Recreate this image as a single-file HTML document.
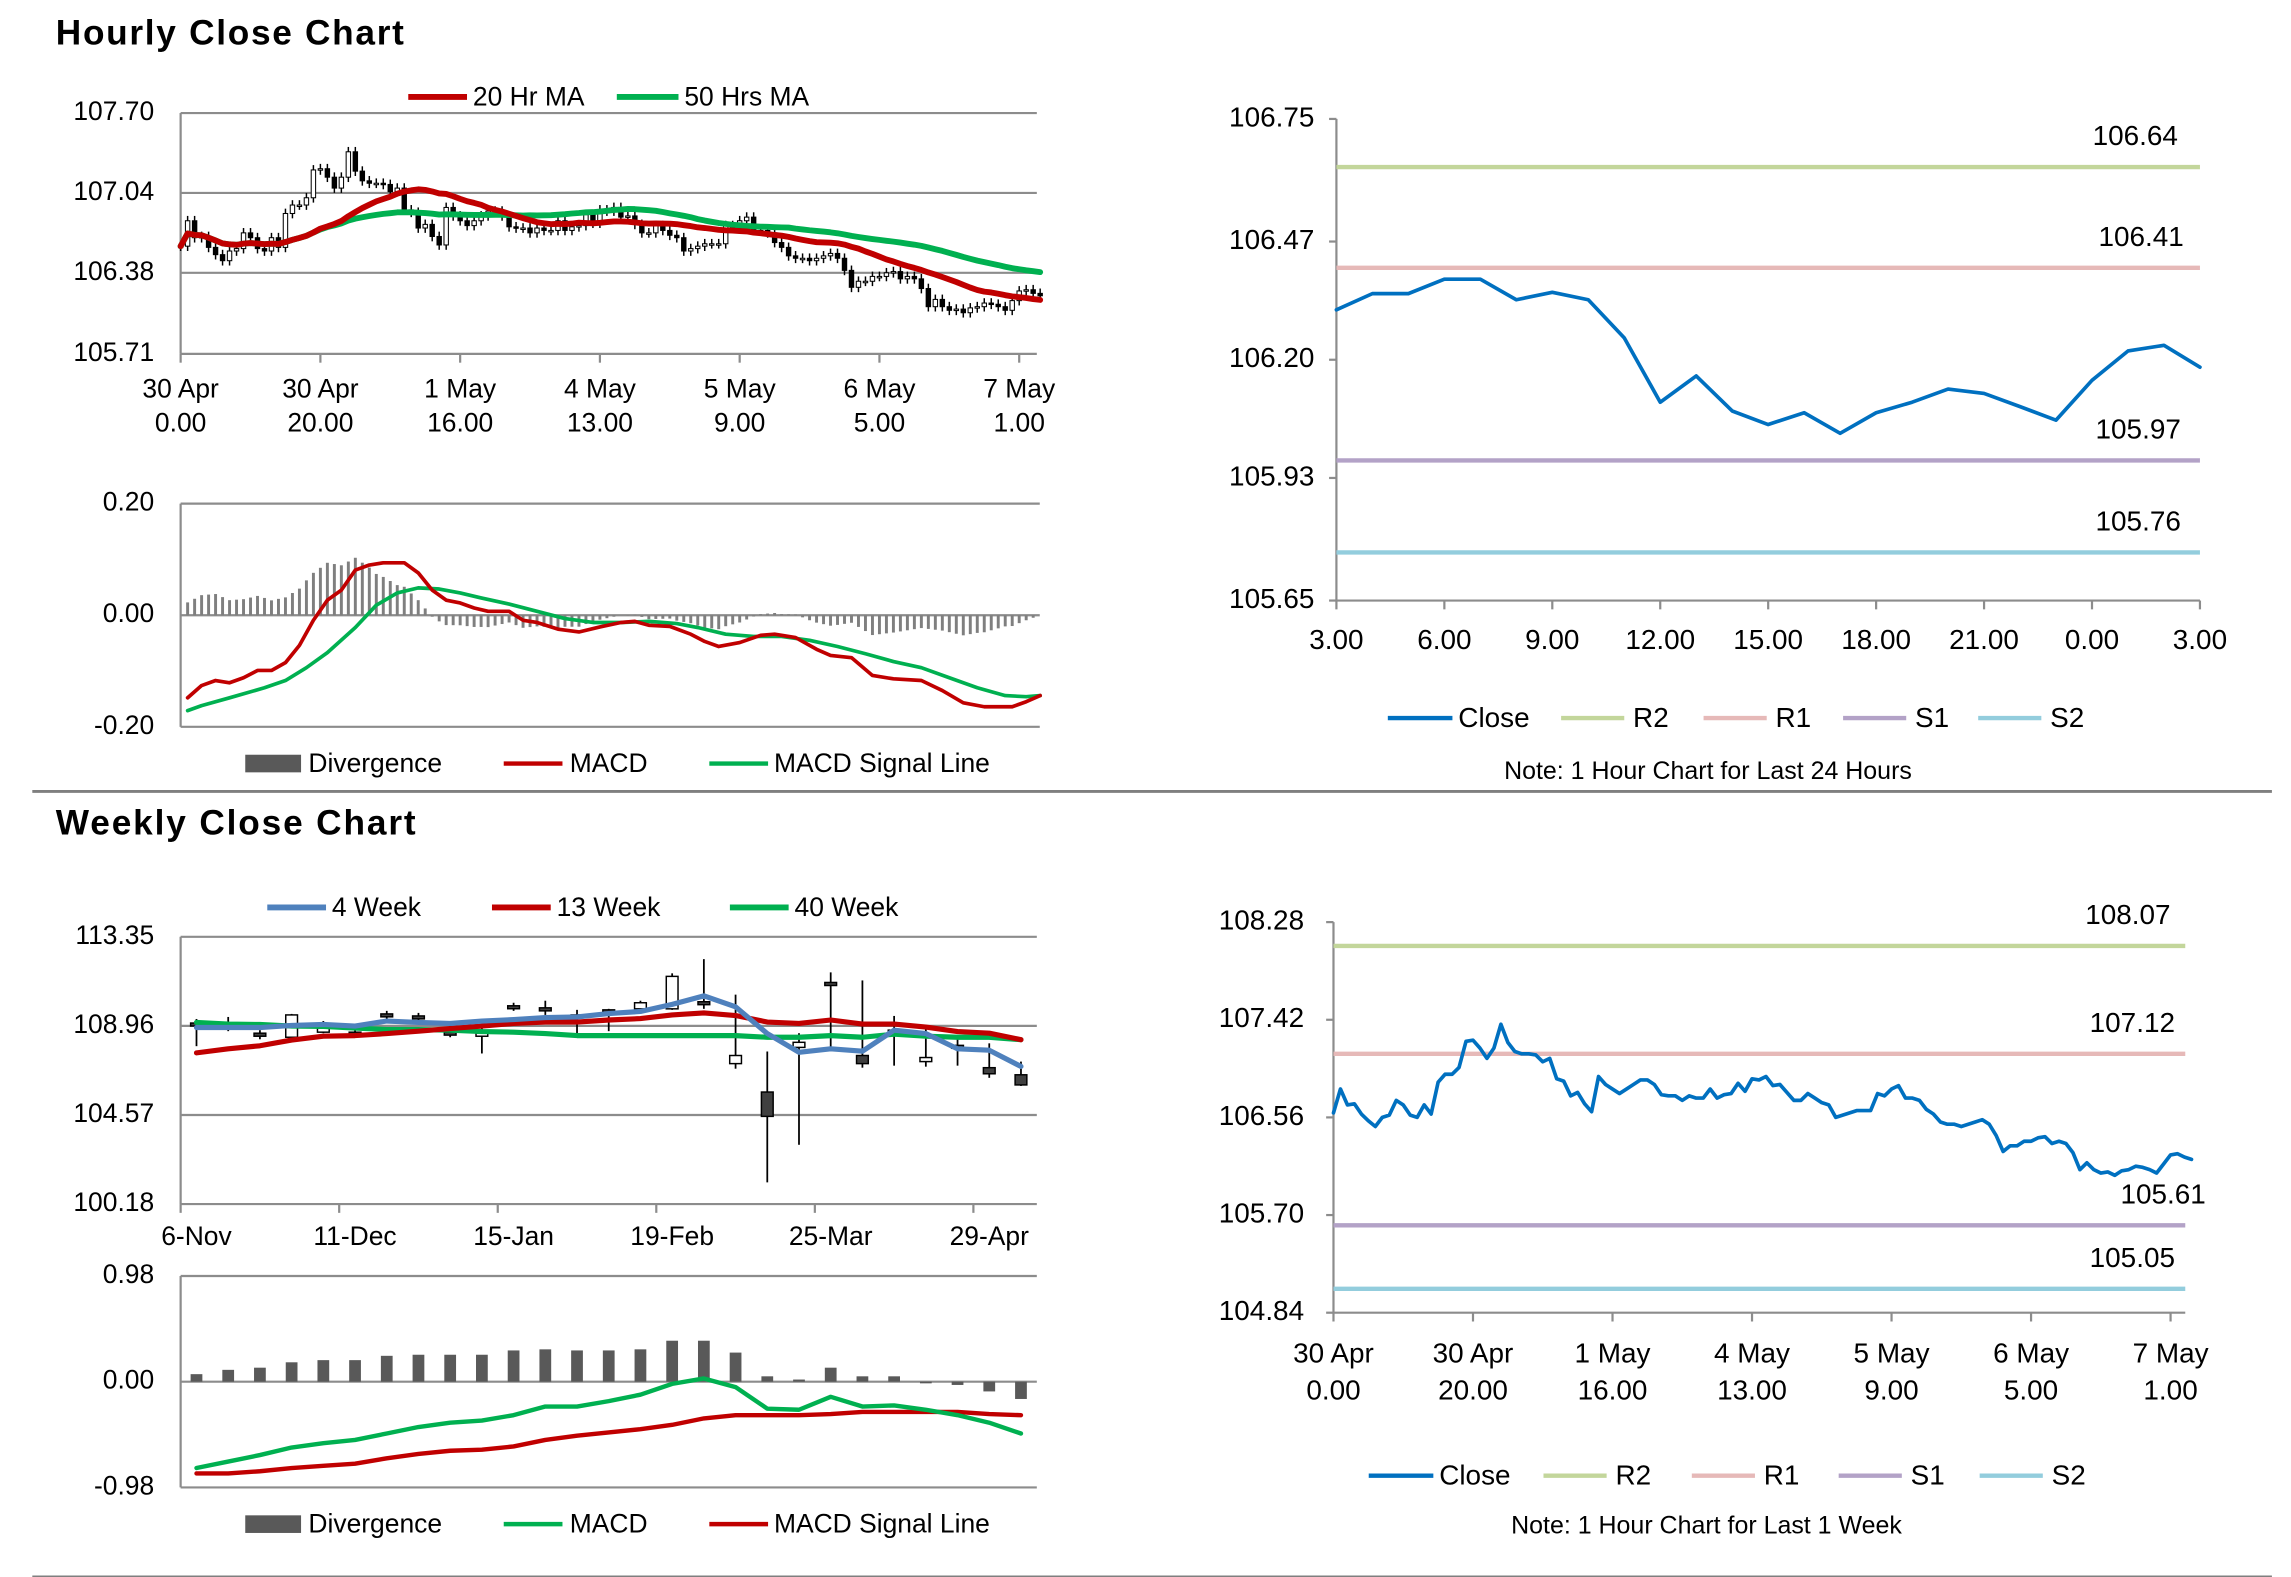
<!DOCTYPE html>
<html><head><meta charset="utf-8"><style>
html,body{margin:0;padding:0;background:#fff}
svg{display:block}
text{font-family:"Liberation Sans Narrow","Liberation Sans",sans-serif;fill:#000}
</style></head><body>
<svg id="root" width="2291" height="1577" viewBox="0 0 1560 1074" preserveAspectRatio="none" xmlns="http://www.w3.org/2000/svg"></svg>
<script>
// ---------- DATA ----------
const hourTickLabels1 = ["30 Apr","30 Apr","1 May","4 May","5 May","6 May","7 May"];
const hourTickLabels2 = ["0.00","20.00","16.00","13.00","9.00","5.00","1.00"];
const hourlyClose = [106.60,106.81,106.67,106.68,106.59,106.53,106.48,106.56,106.58,106.71,106.67,106.58,106.56,106.67,106.59,106.87,106.94,106.94,107.00,107.23,107.24,107.17,107.08,107.17,107.38,107.22,107.14,107.12,107.12,107.11,107.05,107.08,106.90,106.88,106.75,106.78,106.68,106.61,106.92,106.85,106.81,106.77,106.81,106.85,106.89,106.89,106.85,106.76,106.75,106.75,106.71,106.75,106.73,106.73,106.81,106.73,106.76,106.77,106.86,106.79,106.90,106.89,106.92,106.84,106.85,106.78,106.71,106.71,106.77,106.73,106.69,106.67,106.56,106.58,106.60,106.62,106.62,106.62,106.77,106.75,106.81,106.84,106.73,106.73,106.71,106.63,106.59,106.52,106.50,106.50,106.48,106.50,106.52,106.54,106.50,106.40,106.26,106.31,106.31,106.35,106.35,106.38,106.39,106.33,106.35,106.33,106.25,106.10,106.16,106.10,106.07,106.08,106.05,106.09,106.10,106.13,106.12,106.10,106.07,106.15,106.23,106.24,106.21,106.19];
const hourlyYTicks = [105.71,106.38,107.04,107.70];
const macdIdx = [1,3,5,7,9,11,13,15,17,19,21,23,25,27,29,32,34,36,38,40,42,44,47,49,51,54,57,60,63,65,67,70,73,75,77,80,83,85,88,91,93,96,99,102,106,109,112,115,119,121,123];
const macdVal = [-0.148,-0.126,-0.117,-0.121,-0.112,-0.099,-0.099,-0.085,-0.054,-0.009,0.027,0.045,0.081,0.090,0.094,0.094,0.076,0.045,0.027,0.022,0.013,0.007,0.007,-0.009,-0.013,-0.025,-0.030,-0.021,-0.013,-0.011,-0.018,-0.020,-0.034,-0.047,-0.056,-0.049,-0.036,-0.034,-0.040,-0.061,-0.072,-0.076,-0.108,-0.114,-0.117,-0.135,-0.157,-0.164,-0.164,-0.155,-0.144];
const signalIdx = [1,3,7,12,15,18,21,25,28,31,34,37,40,43,47,51,55,59,63,67,71,74,78,82,86,90,94,98,102,106,110,114,118,121,123];
const signalVal = [-0.171,-0.162,-0.148,-0.130,-0.117,-0.094,-0.067,-0.022,0.018,0.040,0.049,0.047,0.040,0.031,0.020,0.007,-0.006,-0.013,-0.013,-0.011,-0.015,-0.022,-0.034,-0.038,-0.038,-0.045,-0.056,-0.069,-0.083,-0.094,-0.112,-0.130,-0.144,-0.146,-0.144];
const macdHTicks = [-0.20,0.00,0.20];
const day24Close = [106.314,106.351,106.351,106.384,106.384,106.337,106.354,106.337,106.250,106.103,106.163,106.083,106.052,106.079,106.032,106.079,106.103,106.133,106.123,106.093,106.062,106.153,106.220,106.233,106.183];
const day24TickLabels = ["3.00","6.00","9.00","12.00","15.00","18.00","21.00","0.00","3.00"];
const day24YTicks = [105.65,105.93,106.20,106.47,106.75];
const day24Levels = [106.64,106.41,105.97,105.76];
const weekLevels = [108.07,107.12,105.61,105.05];
const weekHourYTicks = [104.84,105.70,106.56,107.42,108.28];
const levelNames = ["R2","R1","S1","S2"];
const weeks = ["6-Nov","13-Nov","20-Nov","27-Nov","4-Dec","11-Dec","18-Dec","25-Dec","1-Jan","8-Jan","15-Jan","22-Jan","29-Jan","5-Feb","12-Feb","19-Feb","26-Feb","4-Mar","11-Mar","18-Mar","25-Mar","1-Apr","8-Apr","15-Apr","22-Apr","29-Apr","6-May"];
const wOpen  = [109.10,108.95,108.60,108.40,108.65,108.65,109.55,109.45,108.65,108.45,109.95,109.85,109.50,109.75,109.80,109.80,110.15,107.10,105.70,107.90,111.10,107.50,108.75,107.20,108.00,106.90,106.55];
const wClose = [109.00,108.90,108.45,109.50,108.85,108.55,109.45,109.35,108.55,108.60,109.85,109.70,109.45,109.65,110.10,111.40,110.05,107.50,104.50,108.15,110.95,107.10,108.70,107.40,107.95,106.60,106.05];
const wHigh  = [109.30,109.40,108.75,109.55,109.20,108.90,109.70,109.60,109.00,108.90,110.10,110.20,109.75,109.80,110.20,111.55,112.25,110.50,107.70,108.60,111.60,111.20,109.45,108.90,108.50,108.10,107.20];
const wLow   = [107.96,108.70,108.30,108.35,108.60,108.40,109.20,109.10,108.40,107.60,109.70,109.50,108.60,108.70,109.60,109.75,109.80,106.85,101.25,103.10,107.90,106.90,107.00,106.95,107.00,106.40,106.00];
const ma4  = [108.88,108.88,108.88,108.98,109.03,108.95,109.20,109.13,109.08,109.20,109.27,109.37,109.40,109.57,109.67,110.02,110.44,109.90,108.58,107.66,107.83,107.71,108.75,108.58,107.83,107.76,106.96];
const ma13 = [107.63,107.83,107.98,108.26,108.45,108.48,108.58,108.70,108.83,108.95,109.08,109.15,109.15,109.25,109.32,109.50,109.60,109.47,109.15,109.08,109.25,109.05,109.05,108.90,108.68,108.60,108.28];
const ma40 = [109.13,109.05,109.03,108.95,108.93,108.85,108.78,108.78,108.75,108.68,108.65,108.58,108.48,108.48,108.48,108.48,108.48,108.48,108.40,108.40,108.48,108.40,108.55,108.45,108.40,108.40,108.28];
const weekYTicks = [100.18,104.57,108.96,113.35];
const wDiv  = [0.07,0.11,0.13,0.18,0.20,0.20,0.24,0.25,0.25,0.25,0.29,0.30,0.29,0.29,0.30,0.38,0.38,0.27,0.05,0.02,0.13,0.05,0.05,-0.015,-0.03,-0.09,-0.16];
const wMacd = [-0.80,-0.74,-0.68,-0.61,-0.57,-0.54,-0.48,-0.42,-0.38,-0.36,-0.31,-0.23,-0.23,-0.18,-0.12,-0.02,0.03,-0.05,-0.25,-0.26,-0.14,-0.23,-0.22,-0.26,-0.31,-0.38,-0.48];
const wSig  = [-0.85,-0.85,-0.83,-0.80,-0.78,-0.76,-0.71,-0.67,-0.64,-0.63,-0.60,-0.54,-0.50,-0.47,-0.44,-0.40,-0.34,-0.31,-0.31,-0.31,-0.30,-0.28,-0.28,-0.28,-0.28,-0.30,-0.31];
const wMacdTicks = [-0.98,0.00,0.98];

// ---------- HELPERS ----------
const NS = "http://www.w3.org/2000/svg";
const root = document.getElementById('root');
function mk(tag, attrs, name, parent, inter) {
  const e = document.createElementNS(NS, tag);
  for (const k in attrs) e.setAttribute(k, attrs[k]);
  
  
  (parent || root).appendChild(e);
  return e;
}
function txt(x, y, s, size, anchor, name, parent, extra) {
  const a = Object.assign({x: x, y: y, 'font-size': size, 'text-anchor': anchor || 'start', 'dominant-baseline': 'middle'}, extra || {});
  const t = mk('text', a, name, parent);
  t.textContent = s;
  return t;
}
function line(x1, y1, x2, y2, stroke, w, name, parent) {
  return mk('line', {x1: x1, y1: y1, x2: x2, y2: y2, stroke: stroke, 'stroke-width': w}, name, parent);
}
function poly(pts, stroke, w, name, parent) {
  return mk('polyline', {points: pts.map(p => p[0].toFixed(2) + ',' + p[1].toFixed(2)).join(' '), fill: 'none', stroke: stroke, 'stroke-width': w, 'stroke-linejoin': 'round', 'stroke-linecap': 'round'}, name, parent);
}
function scale(d0, d1, r0, r1) { return v => r0 + (v - d0) / (d1 - d0) * (r1 - r0); }
const GRID = '#8c8c8c', RED = '#c00000', GREEN = '#00b050', BLUE = '#4f81bd', CBLUE = '#0070c0', DIV = '#595959';
const LVL = ['#c3d69b', '#e6b9b8', '#b3a2c7', '#93cddd'];

// ---------- TITLES / SEPARATORS ----------
txt(38, 24, "Hourly Close Chart", 24, 'start', 'hourly-title', null, {'font-weight': 'bold', 'font-family': '"Liberation Sans",sans-serif', textLength: 237});
txt(38, 562, "Weekly Close Chart", 24, 'start', 'weekly-title', null, {'font-weight': 'bold', 'font-family': '"Liberation Sans",sans-serif', textLength: 245});
line(22, 539, 1547, 539, '#7f7f7f', 2, 'section-separator');
line(22, 1074, 1547, 1074, '#7f7f7f', 2, 'bottom-separator');

// ---------- HOURLY CANDLE CHART ----------
(function () {
  const g = mk('g', {}, 'hourly-candle-chart', root);
  const L = 123, R = 706;
  const x = scale(0, 120, 123, 694);
  const y = scale(105.71, 107.70, 241, 77);
  hourlyYTicks.forEach((v, i) => {
    line(L, y(v), R, y(v), GRID, 1.5, 'hourly-gridline', g);
    txt(105, y(v), v.toFixed(2), 18, 'end', 'hourly-y-label', g);
  });
  line(L, 77, L, 241, GRID, 1.5, 'hourly-y-axis', g);
  hourTickLabels1.forEach((s, i) => {
    const xx = x(i * 20);
    line(xx, 241, xx, 247, GRID, 1.5, 'hourly-x-tick', g);
    txt(xx, 266, s, 18, 'middle', 'hourly-x-label-date', g);
    txt(xx, 289, hourTickLabels2[i], 18, 'middle', 'hourly-x-label-time', g);
  });
  // candles
  hourlyClose.forEach((c, i) => {
    const o = i > 0 ? hourlyClose[i - 1] : c;
    const hi = Math.max(o, c) + 0.04, lo = Math.min(o, c) - 0.04;
    const xx = x(i);
    line(xx, y(hi), xx, y(lo), '#000', 1, 'hourly-candle-wick', g);
    const top = y(Math.max(o, c)), h = Math.max(1, Math.abs(y(o) - y(c)));
    mk('rect', {x: xx - 1.5, y: top, width: 3, height: h, fill: c >= o ? '#fff' : '#000', stroke: '#000', 'stroke-width': 0.7}, 'hourly-candle', g);
  });
  function ma(n) {
    return hourlyClose.map((_, i) => {
      const s = hourlyClose.slice(Math.max(0, i - n + 1), i + 1);
      return s.reduce((a, b) => a + b, 0) / s.length;
    });
  }
  poly(ma(50).map((v, i) => [x(i), y(v)]), GREEN, 4, 'ma50-line', g);
  poly(ma(20).map((v, i) => [x(i), y(v)]), RED, 4, 'ma20-line', g);
  line(278, 66, 318, 66, RED, 4, 'legend-ma20-swatch', g);
  txt(322, 67, "20 Hr MA", 18, 'start', 'legend-ma20-label', g);
  line(420, 66, 462, 66, GREEN, 4, 'legend-ma50-swatch', g);
  txt(466, 67, "50 Hrs MA", 18, 'start', 'legend-ma50-label', g);
})();

// ---------- HOURLY MACD ----------
(function () {
  const g = mk('g', {}, 'hourly-macd-chart', root);
  const L = 123, R = 708;
  const x = scale(0, 120, 123, 694);
  const y = scale(-0.20, 0.20, 495, 343);
  macdHTicks.forEach(v => {
    line(L, y(v), R, y(v), GRID, 1.5, 'hourly-macd-gridline', g);
    txt(105, y(v), v.toFixed(2), 18, 'end', 'hourly-macd-y-label', g);
  });
  line(L, 343, L, 495, GRID, 1.5, 'hourly-macd-y-axis', g);
  function interp(ix, iv, t) {
    if (t <= ix[0]) return iv[0];
    for (let k = 1; k < ix.length; k++) if (t <= ix[k]) {
      const f = (t - ix[k - 1]) / (ix[k] - ix[k - 1]);
      return iv[k - 1] + f * (iv[k] - iv[k - 1]);
    }
    return iv[iv.length - 1];
  }
  for (let i = 1; i <= 123; i++) {
    const d = interp(macdIdx, macdVal, i) - interp(signalIdx, signalVal, i);
    const y0 = y(0), y1 = y(d);
    mk('rect', {x: x(i) - 1, y: Math.min(y0, y1), width: 2, height: Math.abs(y1 - y0), fill: '#7f7f7f'}, 'hourly-divergence-bar', g);
  }
  poly(signalIdx.map((t, k) => [x(t), y(signalVal[k])]), GREEN, 2.5, 'hourly-signal-line', g);
  poly(macdIdx.map((t, k) => [x(t), y(macdVal[k])]), RED, 2.5, 'hourly-macd-line', g);
  mk('rect', {x: 167, y: 514, width: 38, height: 12, fill: DIV}, 'legend-divergence-swatch', g);
  txt(210, 521, "Divergence", 18, 'start', 'legend-divergence-label', g);
  line(343, 520, 383, 520, RED, 3, 'legend-macd-swatch', g);
  txt(388, 521, "MACD", 18, 'start', 'legend-macd-label', g);
  line(483, 520, 523, 520, GREEN, 3, 'legend-signal-swatch', g);
  txt(527, 521, "MACD Signal Line", 18, 'start', 'legend-signal-label', g);
})();

// ---------- LEVEL CHART HELPER ----------
function levelChart(opts) {
  const g = mk('g', {}, opts.name, root);
  const y = scale(opts.ymin, opts.ymax, opts.yb, opts.yt);
  opts.yticks.forEach(v => txt(opts.yl, y(v), v.toFixed(2), 19, 'end', 'level-y-label', g));
  line(opts.L, opts.yt, opts.L, opts.yb, GRID, 1.5, 'level-y-axis', g);
  opts.yticks.forEach(v => line(opts.L - 5, y(v), opts.L, y(v), GRID, 1.5, 'level-y-tick', g));
  line(opts.L, opts.yb, opts.R, opts.yb, GRID, 1.5, 'level-x-axis', g);
  opts.levels.forEach((v, k) => {
    line(opts.L, y(v), opts.R, y(v), LVL[k], 3, 'level-line-' + levelNames[k].toLowerCase(), g);
    txt(opts.lx[k], y(v) - 20, v.toFixed(2), 19, 'end', 'level-value-' + levelNames[k].toLowerCase(), g);
  });
  opts.xticks.forEach(t => {
    const xx = opts.x(t.i);
    line(xx, opts.yb, xx, opts.yb + 6, GRID, 1.5, 'level-x-tick', g);
    t.l.forEach((s, j) => txt(xx, opts.xly + j * 25, s, 19, 'middle', 'level-x-label', g));
  });
  poly(opts.data.map((v, i) => [opts.x(i), y(v)]), CBLUE, 2.5, 'close-line', g);
  const lg = opts.lg;
  line(lg[0], opts.lgy, lg[0] + 44, opts.lgy, CBLUE, 3, 'legend-close-swatch', g);
  txt(lg[0] + 48, opts.lgy + 1, "Close", 19, 'start', 'legend-close-label', g);
  levelNames.forEach((n, k) => {
    line(lg[k + 1], opts.lgy, lg[k + 1] + 43, opts.lgy, LVL[k], 3, 'legend-' + n.toLowerCase() + '-swatch', g);
    txt(lg[k + 1] + 49, opts.lgy + 1, n, 19, 'start', 'legend-' + n.toLowerCase() + '-label', g);
  });
  txt(opts.noteX, opts.noteY, opts.note, 17, 'middle', 'chart-note', g);
}
levelChart({
  name: 'day-close-chart', L: 910, R: 1498, yt: 81, yb: 409, ymin: 105.65, ymax: 106.75, yl: 895,
  yticks: day24YTicks, levels: day24Levels, lx: [1483, 1487, 1485, 1485],
  x: scale(0, 24, 910, 1498),
  xticks: day24TickLabels.map((s, i) => ({i: i * 3, l: [s]})), xly: 437,
  data: day24Close, lgy: 489, lg: [945, 1063, 1160, 1255, 1347],
  note: "Note: 1 Hour Chart for Last 24 Hours", noteX: 1163, noteY: 526
});
levelChart({
  name: 'week-hourly-close-chart', L: 908, R: 1488, yt: 628, yb: 894, ymin: 104.84, ymax: 108.28, yl: 888,
  yticks: weekHourYTicks, levels: weekLevels, lx: [1478, 1481, 1502, 1481],
  x: scale(0, 120, 908, 1478),
  xticks: hourTickLabels1.map((s, i) => ({i: i * 20, l: [s, hourTickLabels2[i]]})), xly: 923,
  data: hourlyClose, lgy: 1005, lg: [932, 1051, 1152, 1252, 1348],
  note: "Note: 1 Hour Chart for Last 1 Week", noteX: 1162, noteY: 1040
});

// ---------- WEEKLY CANDLE CHART ----------
(function () {
  const g = mk('g', {}, 'weekly-candle-chart', root);
  const L = 123, R = 706, bw = (R - L) / weeks.length;
  const x = i => L + bw * (i + 0.5);
  const y = scale(100.18, 113.35, 820, 638);
  weekYTicks.forEach(v => {
    line(L, y(v), R, y(v), GRID, 1.5, 'weekly-gridline', g);
    txt(105, y(v), v.toFixed(2), 18, 'end', 'weekly-y-label', g);
  });
  line(L, 638, L, 820, GRID, 1.5, 'weekly-y-axis', g);
  weeks.forEach((w, i) => {
    if (i % 5 === 0) {
      line(L + i * bw, 820, L + i * bw, 826, GRID, 1.5, 'weekly-x-tick', g);
      txt(x(i), 843, w, 18, 'middle', 'weekly-x-label', g);
    }
  });
  weeks.forEach((w, i) => {
    line(x(i), y(wHigh[i]), x(i), y(wLow[i]), '#000', 1.2, 'weekly-candle-wick', g);
    const up = wClose[i] >= wOpen[i];
    const top = y(Math.max(wOpen[i], wClose[i]));
    const h = Math.max(2, Math.abs(y(wOpen[i]) - y(wClose[i])));
    mk('rect', {x: x(i) - 4, y: top, width: 8, height: h, fill: up ? '#fff' : '#404040', stroke: '#000', 'stroke-width': 1}, 'weekly-candle', g);
  });
  poly(ma40.map((v, i) => [x(i), y(v)]), GREEN, 3.5, 'ma40-line', g);
  poly(ma13.map((v, i) => [x(i), y(v)]), RED, 3.5, 'ma13-line', g);
  poly(ma4.map((v, i) => [x(i), y(v)]), BLUE, 3.5, 'ma4-line', g);
  line(182, 618, 222, 618, BLUE, 4, 'legend-4week-swatch', g);
  txt(226, 619, "4 Week", 18, 'start', 'legend-4week-label', g);
  line(335, 618, 375, 618, RED, 4, 'legend-13week-swatch', g);
  txt(379, 619, "13 Week", 18, 'start', 'legend-13week-label', g);
  line(497, 618, 537, 618, GREEN, 4, 'legend-40week-swatch', g);
  txt(541, 619, "40 Week", 18, 'start', 'legend-40week-label', g);
})();

// ---------- WEEKLY MACD ----------
(function () {
  const g = mk('g', {}, 'weekly-macd-chart', root);
  const L = 123, R = 706, bw = (R - L) / weeks.length;
  const x = i => L + bw * (i + 0.5);
  const y = scale(-0.98, 0.98, 1013, 869);
  wMacdTicks.forEach(v => {
    line(L, y(v), R, y(v), GRID, 1.5, 'weekly-macd-gridline', g);
    txt(105, y(v), v.toFixed(2), 18, 'end', 'weekly-macd-y-label', g);
  });
  line(L, 869, L, 1013, GRID, 1.5, 'weekly-macd-y-axis', g);
  wDiv.forEach((d, i) => {
    const y0 = y(0), y1 = y(d);
    mk('rect', {x: x(i) - 4, y: Math.min(y0, y1), width: 8, height: Math.max(1, Math.abs(y1 - y0)), fill: DIV}, 'weekly-divergence-bar', g);
  });
  poly(wSig.map((v, i) => [x(i), y(v)]), RED, 3, 'weekly-signal-line', g);
  poly(wMacd.map((v, i) => [x(i), y(v)]), GREEN, 3, 'weekly-macd-line', g);
  mk('rect', {x: 167, y: 1032, width: 38, height: 12, fill: DIV}, 'legend-w-divergence-swatch', g);
  txt(210, 1039, "Divergence", 18, 'start', 'legend-w-divergence-label', g);
  line(343, 1038, 383, 1038, GREEN, 3, 'legend-w-macd-swatch', g);
  txt(388, 1039, "MACD", 18, 'start', 'legend-w-macd-label', g);
  line(483, 1038, 523, 1038, RED, 3, 'legend-w-signal-swatch', g);
  txt(527, 1039, "MACD Signal Line", 18, 'start', 'legend-w-signal-label', g);
})();
</script>
</body></html>
